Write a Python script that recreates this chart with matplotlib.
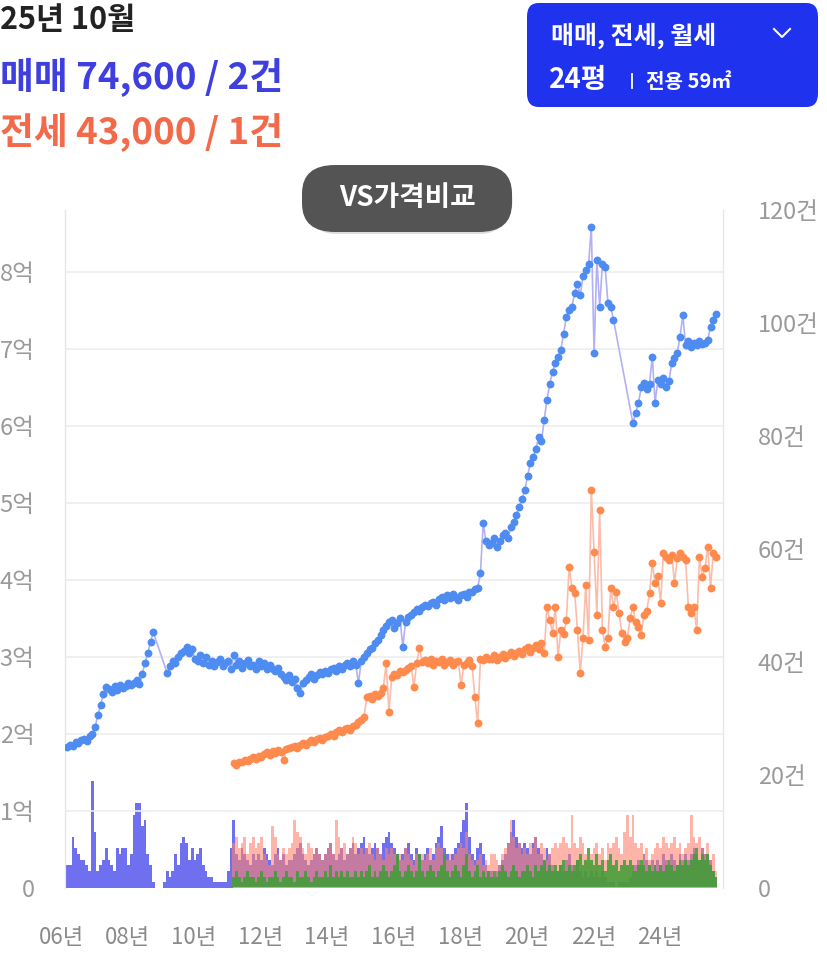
import numpy as np
import pandas as pd
import matplotlib
matplotlib.use("Agg")
import matplotlib.pyplot as plt
from matplotlib.patches import FancyBboxPatch
from matplotlib.lines import Line2D

plt.rcParams['font.family'] = ['Noto Sans CJK KR', 'DejaVu Sans']

nan = np.nan
W, H = 827, 963

# ---------------- data ----------------
sale_start = "2006-04"
sale_price = [  # 매매 monthly price (억)
    1.83, 1.86, 1.85, 1.90, 1.88, 1.92, 1.94, 1.91, 1.97,
    2.00, 2.09, 2.25, 2.38, 2.52, 2.61, 2.58, 2.55, 2.62, 2.57, 2.64, 2.60,
    2.62, 2.66, 2.64, 2.66, 2.70, 2.65, 2.78, 2.92, 3.05, 3.20, 3.32, nan,
    nan, nan, nan, 2.79, 2.88, 2.95, 2.92, 3.00, 3.05, 3.08, 3.13, 3.05,
    3.10, 2.98, 2.95, 3.02, 2.92, 3.00, 2.90, 2.95, 2.88, 2.93, 2.98, 2.88,
    2.92, 2.95, 2.85, 3.02, 2.90, 2.95, 2.86, 2.92, 2.96, 2.88, 2.90, 2.85,
    2.95, 2.88, 2.92, 2.85, 2.90, 2.84, 2.82, 2.86, 2.78, 2.74, 2.70, 2.76,
    2.68, 2.72, 2.60, 2.53, 2.66, 2.70, 2.74, 2.78, 2.72, 2.76, 2.80, 2.78,
    2.82, 2.79, 2.84, 2.86, 2.82, 2.88, 2.85, 2.90, 2.92, 2.88, 2.95, 2.90,
    2.66, 2.95, 3.00, 3.05, 3.10, 3.12, 3.18, 3.22, 3.28, 3.35, 3.40, 3.45,
    3.48, 3.38, 3.44, 3.50, 3.13, 3.46, 3.52, 3.55, 3.58, 3.62, 3.60, 3.65,
    3.68, 3.66, 3.70, 3.72, 3.68, 3.75, 3.78, 3.74, 3.80, 3.76, 3.82, 3.78,
    3.74, 3.80, 3.82, 3.78, 3.85, 3.84, 3.88, 3.90, 4.09, 4.74, 4.50, 4.45,
    4.48, 4.55, 4.43, 4.50, 4.58, 4.61, 4.55, 4.69, 4.75, 4.85, 4.95, 5.05,
    5.17, 5.35, 5.52, 5.60, 5.70, 5.86, 5.80, 6.08, 6.34, 6.55, 6.70, 6.82,
    6.90, 6.99, 7.20, 7.42, 7.50, 7.55, 7.73, 7.85, 7.70, 7.95, 8.03, 8.10,
    8.58, 6.95, 8.16, 7.55, 8.10, 8.06, 7.60, 7.55, 7.38, nan, nan, nan,
    nan, nan, nan, 6.04, 6.17, 6.30, 6.50, 6.56, 6.48, 6.55, 6.90, 6.30,
    6.60, 6.55, 6.62, 6.50, 6.58, 6.82, 6.88, 6.95, 7.16, 7.44, 7.05, 7.10,
    7.03, 7.08, 7.05, 7.10, 7.06, 7.08, 7.12, 7.29, 7.38, 7.46,
]

jeonse_start = "2011-04"
jeonse_price = [  # 전세 monthly price (억)
    1.62, 1.60, 1.64, 1.63, 1.66, 1.65, 1.68, 1.70, 1.67,
    1.72, 1.70, 1.74, 1.76, 1.73, 1.78, 1.75, 1.79, 1.77, 1.66, 1.80, 1.82,
    1.83, 1.85, 1.82, 1.86, 1.88, 1.86, 1.90, 1.92, 1.89, 1.93, 1.95, 1.92,
    1.96, 1.98, 2.00, 1.97, 2.02, 2.05, 2.03, 2.06, 2.08, 2.05, 2.10, 2.12,
    2.15, 2.18, 2.22, 2.48, 2.50, 2.46, 2.52, 2.50, 2.53, 2.60, 2.92, 2.29,
    2.74, 2.78, 2.76, 2.82, 2.80, 2.83, 2.86, 2.88, 2.61, 2.92, 3.12, 2.94,
    2.96, 2.92, 2.98, 2.90, 2.95, 2.93, 2.97, 2.90, 2.94, 2.96, 2.89, 2.93,
    2.95, 2.64, 2.90, 2.92, 2.96, 2.88, 2.48, 2.14, 2.98, 2.96, 3.00, 2.97,
    2.98, 3.02, 2.96, 3.00, 3.04, 2.99, 3.03, 3.06, 3.01, 3.05, 3.08, 3.04,
    3.10, 3.13, 3.06, 3.12, 3.15, 3.10, 3.18, 3.05, 3.65, 3.48, 3.31, 3.65,
    3.00, 3.35, 3.30, 3.48, 4.17, 3.90, 3.83, 3.35, 2.79, 3.25, 3.94, 3.22,
    5.17, 4.36, 3.55, 4.91, 3.35, 3.13, 3.25, 3.90, 3.65, 3.84, 3.57, 3.31,
    3.20, 3.25, 3.50, 3.65, 3.45, 3.39, 3.29, 3.55, 3.60, 3.83, 4.22, 3.96,
    4.05, 3.70, 4.35, 4.30, 4.26, 4.33, 3.96, 4.28, 4.35, 4.30, 4.26, 3.65,
    3.57, 3.65, 3.35, 4.30, 4.04, 4.15, 4.43, 3.90, 4.35, 4.30,
]

sale_count = [  # 매매 건수
    4, 4, 9, 7, 6, 5, 5, 4, 3,
    19, 10, 3, 4, 5, 7, 5, 4, 3, 7, 6, 7,
    7, 4, 6, 13, 15, 15, 11, 12, 6, 4, 1, 0,
    0, 0, 1, 3, 2, 3, 6, 4, 8, 9, 8, 5,
    7, 5, 6, 7, 4, 3, 2, 2, 1, 1, 1, 1,
    1, 3, 7, 12, 6, 5, 7, 6, 5, 4, 6, 5,
    6, 5, 7, 6, 5, 4, 6, 7, 5, 6, 4, 5,
    5, 6, 7, 8, 6, 5, 4, 5, 6, 7, 6, 5,
    6, 7, 8, 6, 5, 6, 7, 5, 6, 7, 8, 6,
    7, 8, 9, 7, 6, 7, 8, 7, 6, 8, 9, 10,
    8, 7, 6, 5, 6, 7, 8, 6, 5, 7, 6, 5,
    6, 7, 5, 6, 8, 9, 11, 7, 6, 5, 6, 7,
    8, 10, 12, 15, 9, 6, 5, 7, 8, 6, 4, 3,
    3, 2, 3, 4, 5, 6, 8, 10, 12, 9, 8, 7,
    8, 7, 6, 8, 9, 7, 6, 5, 7, 6, 4, 3,
    3, 4, 3, 5, 6, 4, 3, 5, 3, 2, 3, 2,
    3, 2, 3, 2, 3, 2, 1, 1, 1, 0, 1, 1,
    1, 1, 2, 3, 4, 5, 4, 6, 5, 4, 5, 4,
    5, 4, 6, 5, 4, 6, 5, 4, 6, 5, 6, 5,
    6, 7, 6, 5, 7, 6, 6, 5, 3, 2,
]

jeonse_count = [  # 전세 건수
    8, 9, 7, 8, 9, 6, 8, 9, 7,
    8, 9, 6, 5, 4, 11, 9, 6, 5, 7, 6, 7,
    8, 12, 10, 9, 7, 6, 8, 7, 6, 7, 6, 5,
    6, 7, 8, 6, 12, 9, 7, 8, 6, 7, 9, 8,
    6, 7, 6, 7, 8, 6, 5, 7, 6, 5, 7, 6,
    7, 6, 5, 6, 5, 7, 6, 5, 4, 6, 5, 6,
    5, 6, 7, 5, 7, 8, 7, 6, 5, 6, 5, 6,
    7, 8, 7, 10, 6, 5, 4, 5, 6, 4, 5, 4,
    6, 6, 5, 4, 6, 7, 8, 12, 9, 7, 8, 6,
    7, 6, 8, 7, 9, 6, 8, 7, 5, 6, 7, 8,
    7, 8, 9, 8, 7, 13, 8, 7, 9, 8, 6, 5,
    6, 7, 8, 6, 7, 5, 8, 7, 8, 9, 7, 6,
    10, 13, 9, 13, 8, 7, 8, 6, 7, 5, 6, 7,
    8, 7, 9, 8, 7, 8, 9, 7, 8, 6, 7, 8,
    13, 9, 8, 9, 7, 6, 8, 5, 6, 3,
]

wolse_count = [  # 월세 건수
    2, 3, 2, 1, 2, 3, 2, 2, 1,
    2, 3, 2, 1, 2, 2, 3, 2, 1, 2, 3, 2,
    2, 1, 3, 2, 2, 3, 2, 1, 2, 3, 2, 2,
    3, 2, 4, 2, 3, 2, 3, 2, 3, 2, 2, 3,
    2, 3, 2, 3, 4, 2, 3, 2, 3, 4, 3, 2,
    3, 4, 6, 3, 2, 3, 4, 3, 2, 3, 6, 3,
    2, 3, 4, 3, 2, 3, 4, 6, 3, 2, 3, 4,
    3, 2, 4, 6, 3, 2, 3, 4, 2, 3, 2, 3,
    2, 3, 2, 3, 4, 3, 2, 3, 4, 3, 2, 3,
    3, 4, 3, 2, 4, 3, 4, 5, 3, 4, 3, 4,
    3, 4, 5, 3, 4, 3, 4, 5, 6, 4, 5, 7,
    5, 4, 6, 4, 5, 3, 5, 6, 4, 5, 3, 4,
    5, 4, 5, 4, 3, 4, 5, 4, 3, 4, 3, 4,
    3, 4, 3, 4, 5, 4, 3, 4, 5, 4, 5, 4,
    5, 6, 7, 5, 6, 5, 6, 4, 3, 2,
]

price_ticks = [0, 1, 2, 3, 4, 5, 6, 7, 8]
price_labels = ["0", "1억", "2억", "3억", "4억", "5억", "6억", "7억", "8억"]
count_ticks = [0, 20, 40, 60, 80, 100, 120]
count_labels = ["0", "20건", "40건", "60건", "80건", "100건", "120건"]
year_ticks = [2006, 2008, 2010, 2012, 2014, 2016, 2018, 2020, 2022, 2024]
year_labels = ["06년", "08년", "10년", "12년", "14년", "16년", "18년", "20년", "22년", "24년"]

header_date = "25년 10월"
header_sale = "매매 74,600 / 2건"
header_jeonse = "전세 43,000 / 1건"
filter_line1 = "매매, 전세, 월세"
filter_size = "24평"
filter_area = "전용 59㎡"
vs_label = "VS가격비교"

# ---------------- helpers ----------------
def months(start, n):
    p = pd.period_range(start, periods=n, freq="M")
    return np.asarray(p.year + (p.month - 0.5) / 12.0, dtype=float)

def fx(x):
    return x / W

def fy(y):
    return 1 - y / H

C_BLUE_DOT = "#4f8cf2"
C_BLUE_LINE = "#b3b0f5"
C_ORG_DOT = "#ff8a4e"
C_ORG_LINE = "#fbbcaa"
C_BAR_BLUE = "#4b4cec"
C_BAR_ORG = "#ff8270"
C_BAR_GRN = "#3d9e35"
C_TICK = "#9a9a9a"

fig = plt.figure(figsize=(W / 100, H / 100), dpi=100)
fig.patch.set_facecolor("white")

ax = fig.add_axes([fx(65), fy(888), fx(723) - fx(65), fy(210) - fy(888)])
ax2 = ax.twinx()

t_sale = months(sale_start, len(sale_price))
t_jeon = months(jeonse_start, len(jeonse_price))
t_sc = months(sale_start, len(sale_count))
t_jc = months(jeonse_start, len(jeonse_count))
t_wc = months(jeonse_start, len(wolse_count))

# volume bars (right axis)
bw = 1 / 12
ax.bar(t_sc, sale_count, width=bw, color=C_BAR_BLUE, alpha=0.8, linewidth=0, zorder=2)
ax.bar(t_jc, jeonse_count, width=bw, color=C_BAR_ORG, alpha=0.6, linewidth=0, zorder=3)
ax.bar(t_wc, wolse_count, width=bw, color=C_BAR_GRN, alpha=0.85, linewidth=0, zorder=4)
ax.plot(t_wc, np.zeros_like(t_wc), color="#7be05a", lw=1.5, zorder=5)
ax.set_ylim(0, 120)
ax.set_xlim(2006.22, 2026.0)

# price series (left axis)
sp = np.array(sale_price, dtype=float)
v = ~np.isnan(sp)
ax2.plot(t_sale[v], sp[v], color=C_BLUE_LINE, lw=1.2, zorder=3)
ax2.scatter(t_sale[v], sp[v], s=32, color=C_BLUE_DOT, zorder=4, linewidths=0)
jp = np.array(jeonse_price, dtype=float)
ax2.plot(t_jeon, jp, color=C_ORG_LINE, lw=1.2, zorder=3)
ax2.scatter(t_jeon, jp, s=32, color=C_ORG_DOT, zorder=4, linewidths=0)
ax2.set_ylim(0, (888 - 210) / 77.0)
ax2.set_xlim(2006.22, 2026.0)

# grid lines from the price axis
for v_ in price_ticks[1:]:
    ax2.axhline(v_, color="#ededed", lw=1.2, zorder=0)

for a in (ax, ax2):
    for s in ("top", "bottom"):
        a.spines[s].set_visible(False)
    a.spines["left"].set_color("#e6e6e6")
    a.spines["right"].set_color("#e6e6e6")
    a.set_xticks([])
    a.patch.set_alpha(0)

# right axis: counts
ax.yaxis.tick_right()
ax.set_yticks(count_ticks)
ax.set_yticklabels(count_labels)
ax.tick_params(axis="y", length=0, pad=25, labelsize=17, labelcolor=C_TICK)

# left axis: price
ax2.yaxis.tick_left()
ax2.set_yticks(price_ticks)
ax2.set_yticklabels(price_labels)
ax2.tick_params(axis="y", length=0, pad=22, labelsize=17, labelcolor=C_TICK)
ax2.tick_params(axis="y", which="both", right=False, labelright=False)

# x labels
for yv, lab in zip(year_ticks, year_labels):
    ax.text(yv + 0.1, -0.073, lab, transform=ax.get_xaxis_transform(), ha="center",
            va="center", fontsize=16, color="#8a8a8a", clip_on=False)

# header
fig.text(fx(0), fy(20), header_date, fontsize=22, fontweight="bold", color="#222222",
         ha="left", va="center")
fig.text(fx(0), fy(78), header_sale, fontsize=26.5, fontweight="bold", color="#3f3fe0",
         ha="left", va="center")
fig.text(fx(0), fy(133), header_jeonse, fontsize=26.5, fontweight="bold", color="#f26a4a",
         ha="left", va="center")

# filter box
box = FancyBboxPatch((fx(527), fy(107)), fx(818) - fx(527), fy(3) - fy(107),
                     boxstyle="round,pad=0,rounding_size=0.014",
                     transform=fig.transFigure, facecolor="#1f33ee", edgecolor="none")
fig.patches.append(box)
fig.text(fx(551), fy(36), filter_line1, fontsize=18, fontweight="bold", color="white",
         ha="left", va="center")
fig.lines.append(Line2D([fx(774), fx(782), fx(790)], [fy(29), fy(37), fy(29)],
                        transform=fig.transFigure, color="white", lw=1.5))
fig.text(fx(549), fy(80), filter_size, fontsize=20, fontweight="bold", color="white",
         ha="left", va="center")
fig.lines.append(Line2D([fx(632), fx(632)], [fy(74), fy(88)],
                        transform=fig.transFigure, color="white", lw=1.3))
fig.text(fx(646), fy(81), filter_area, fontsize=14.5, fontweight="bold", color="white",
         ha="left", va="center")

# VS pill
pill_shadow = FancyBboxPatch((fx(303), fy(234)), fx(513) - fx(303), fy(167) - fy(234),
                             boxstyle="round,pad=0,rounding_size=0.04",
                             transform=fig.transFigure, facecolor="#bbbbbb",
                             edgecolor="none", alpha=0.5, mutation_aspect=H / W)
fig.patches.append(pill_shadow)
pill = FancyBboxPatch((fx(302), fy(232)), fx(512) - fx(302), fy(165) - fy(232),
                      boxstyle="round,pad=0,rounding_size=0.04",
                      transform=fig.transFigure, facecolor="#545454",
                      edgecolor="none", mutation_aspect=W / H * (W / H))
fig.patches.append(pill)
fig.text(fx(407), fy(198), vs_label, fontsize=20, fontweight="bold", color="white",
         ha="center", va="center")

fig.savefig("out.png", dpi=100)
